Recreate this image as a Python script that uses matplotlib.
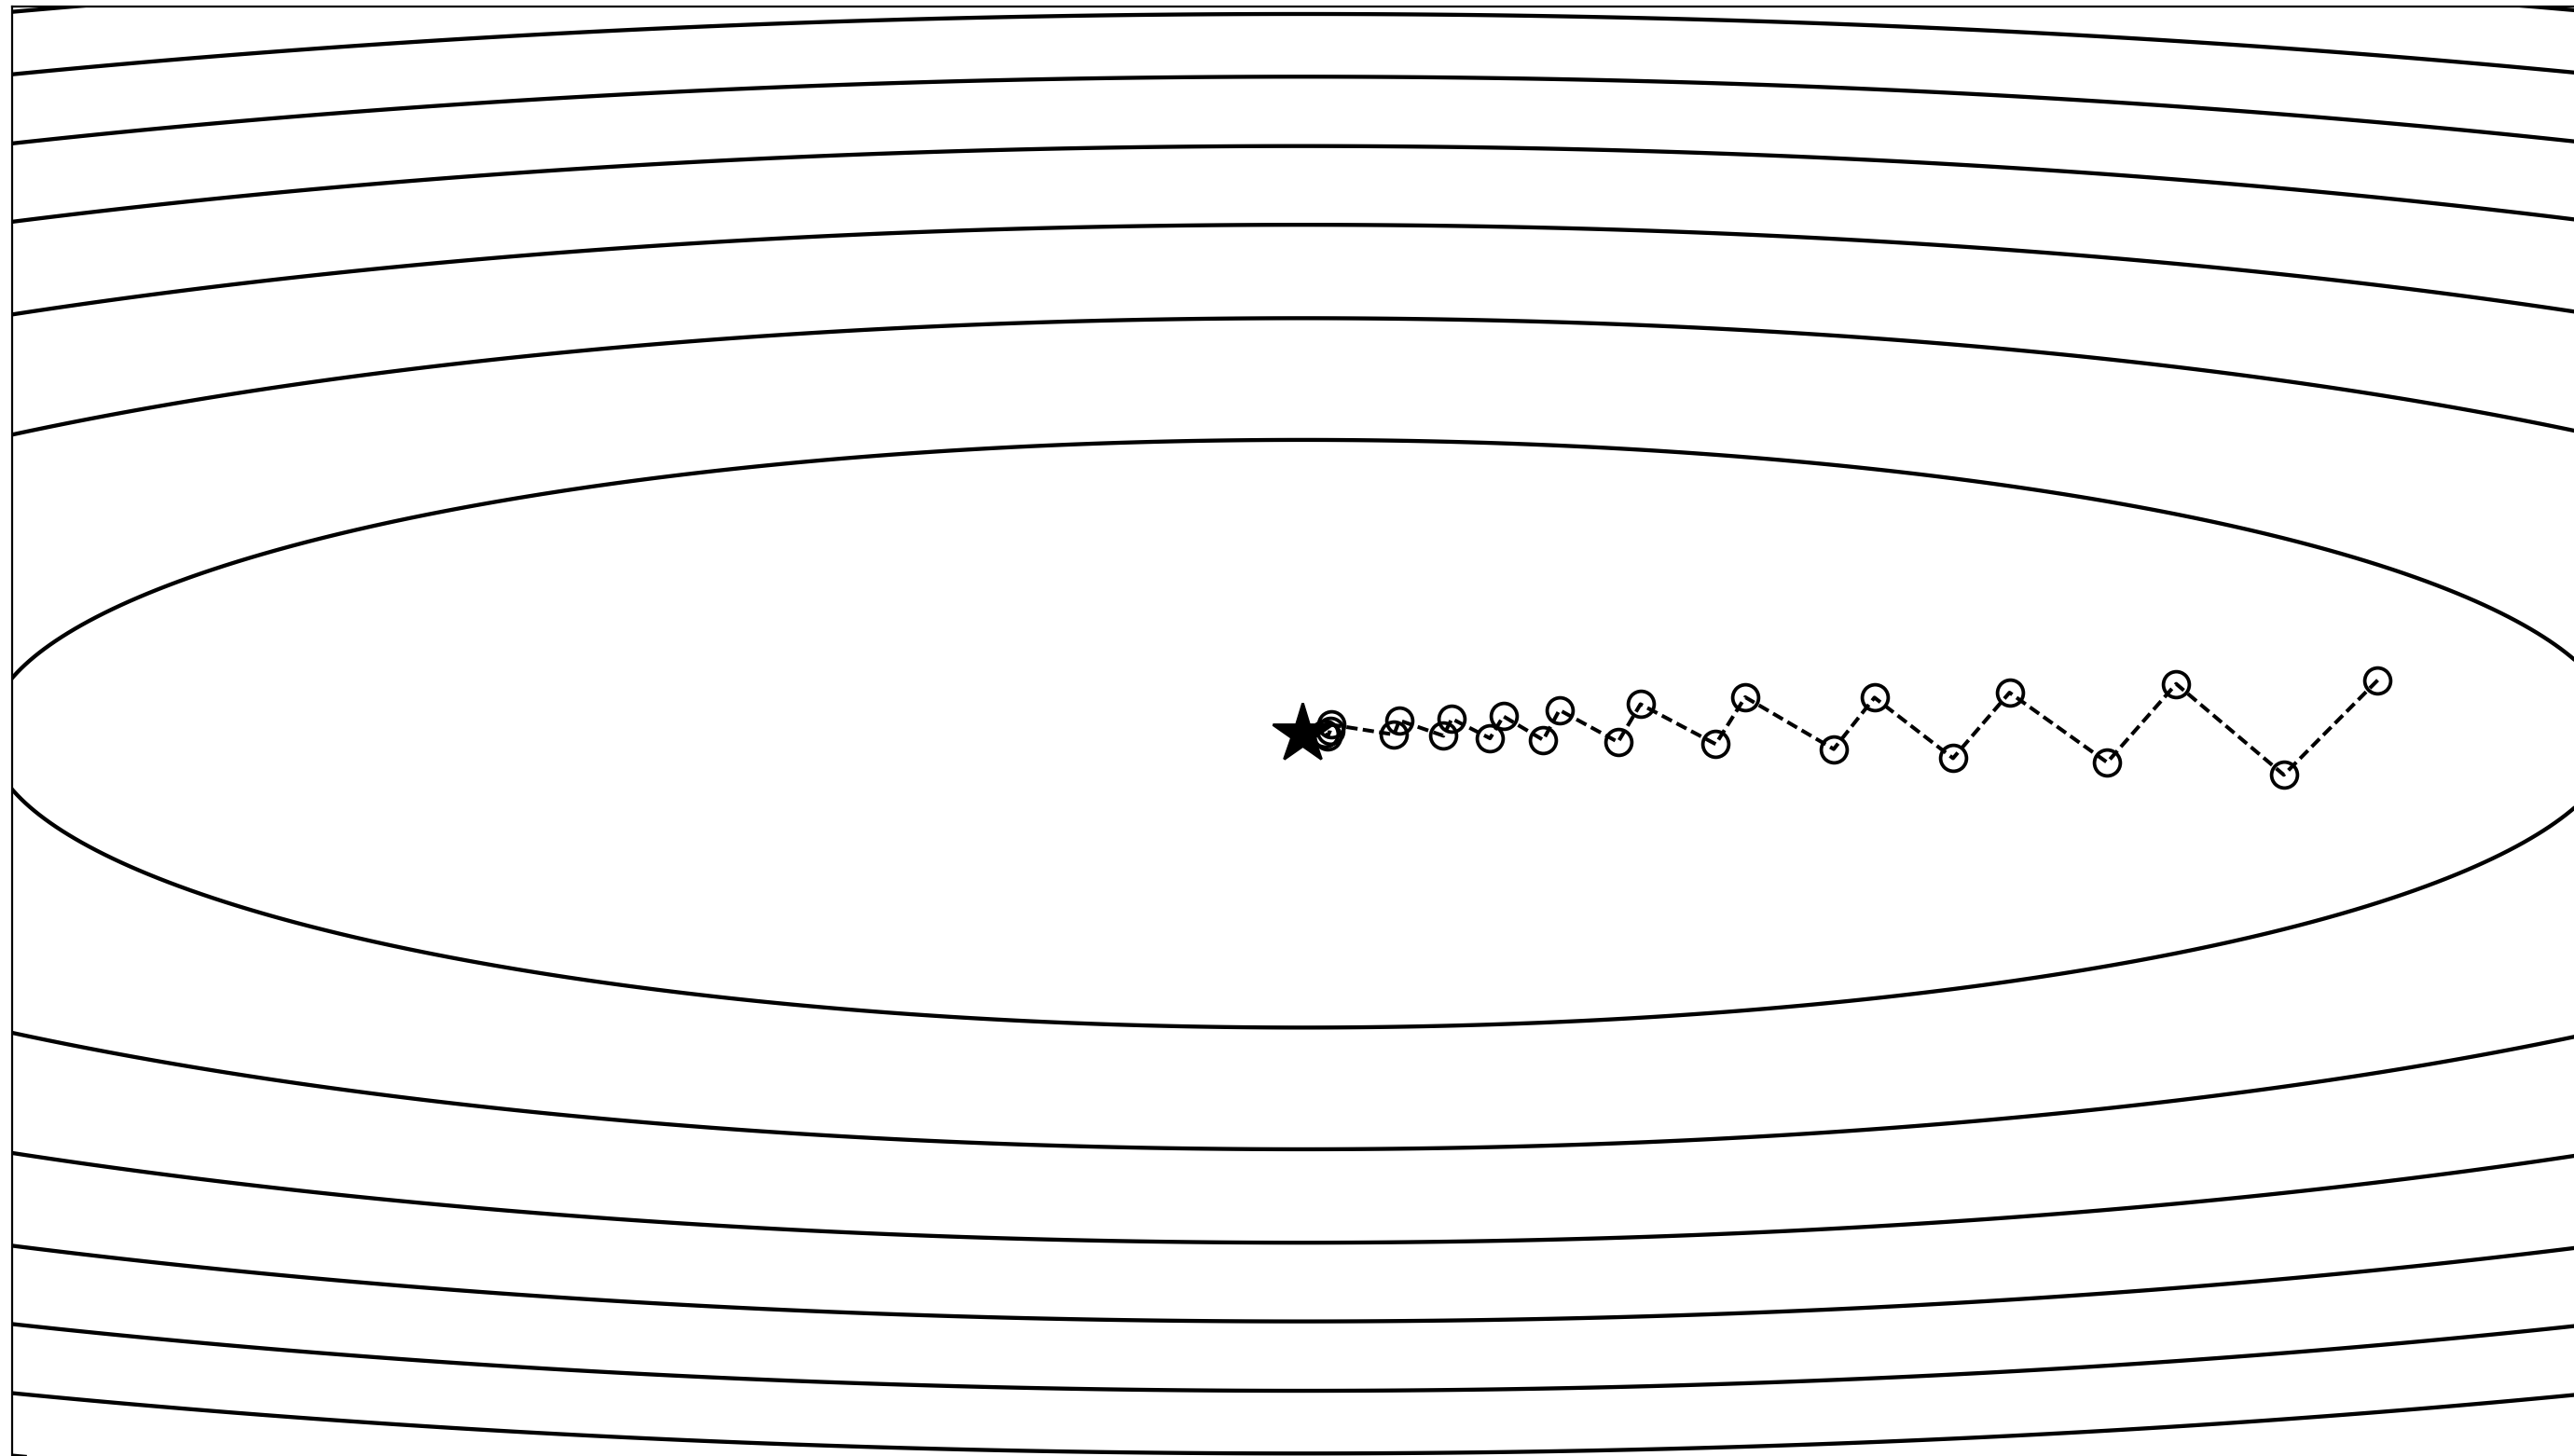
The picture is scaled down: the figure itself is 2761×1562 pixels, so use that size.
import numpy as np
import matplotlib
matplotlib.use('Agg')
import matplotlib.pyplot as plt

# objective f(x1, x2) = 0.1*x1^2 + 2*x2^2 and the levels drawn
coef_x1 = 0.1
coef_x2 = 2.0
contour_levels = [1, 2, 3, 4, 5, 6, 7, 8, 9, 10, 11, 12]

# optimisation path (start on the right)
path_x1 = [2.587, 2.361, 2.102, 1.936, 1.701, 1.565, 1.376, 1.278, 1.065, 0.994,
           0.813, 0.759, 0.618, 0.579, 0.483, 0.451, 0.359, 0.339, 0.233, 0.220,
           0.068, 0.066, 0.060, 0.054]
path_x2 = [0.129, -0.099, 0.120, -0.069, 0.099, -0.059, 0.087, -0.037, 0.088, -0.025,
           0.071, -0.020, 0.057, -0.015, 0.042, -0.011, 0.036, -0.005, 0.032, -0.002,
           0.022, 0.007, -0.007, 0.000]

minimum = (0.0, 0.0)

W, H, DPI = 2761, 1562, 200
fig = plt.figure(figsize=(W / DPI, H / DPI), dpi=DPI)

# axes runs past the right and bottom edges of the picture
xlim = (-3.105, 3.1)
ylim = (-1.75, 1.75)
scale = 445.8  # px per unit
ax_w = (xlim[1] - xlim[0]) * scale
ax_h = (ylim[1] - ylim[0]) * scale
left_px, top_px = 13, 7
ax = fig.add_axes([left_px / W, 1 - (top_px + ax_h) / H, ax_w / W, ax_h / H])

g1 = np.linspace(-3.3, 3.3, 600)
g2 = np.linspace(-1.9, 1.9, 400)
X1, X2 = np.meshgrid(g1, g2)
Z = coef_x1 * X1 ** 2 + coef_x2 * X2 ** 2
ax.contour(X1, X2, Z, levels=contour_levels, colors='k', linewidths=1.55)

ax.plot(path_x1, path_x2, color='k', linestyle=(0, (3.0, 1.4)), lw=1.45,
        marker='o', ms=10, mfc='none', mec='k', mew=1.35)
ax.plot(minimum[0], minimum[1], marker='*', ms=24, color='k', linestyle='none')

ax.set_xlim(*xlim)
ax.set_ylim(*ylim)
ax.set_xticks([])
ax.set_yticks([])
for s in ax.spines.values():
    s.set_linewidth(0.8)

fig.savefig('out.png', dpi=DPI)
